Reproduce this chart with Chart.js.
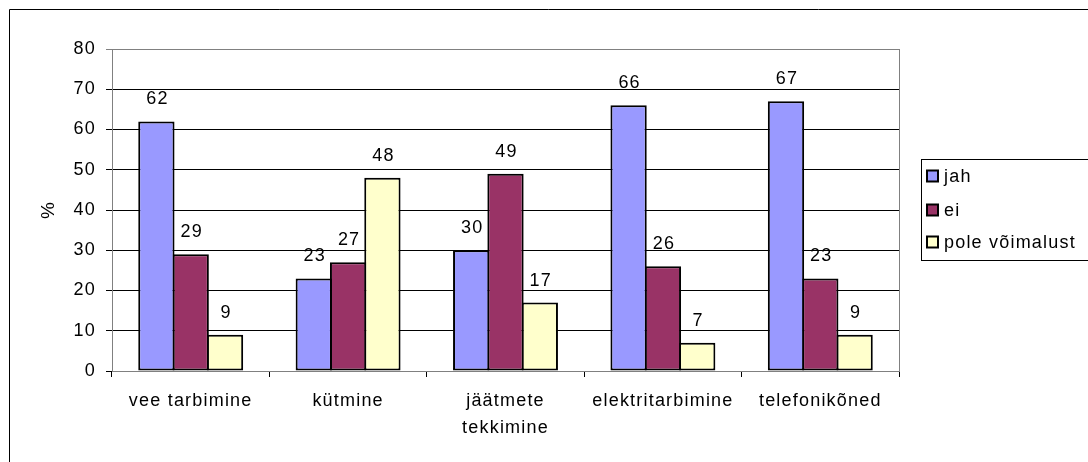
<!DOCTYPE html>
<html>
<head>
<meta charset="utf-8">
<script src="https://cdn.jsdelivr.net/npm/chart.js@4/dist/chart.umd.min.js"></script>
<style>
  html, body { margin: 0; padding: 0; background: #fff; }
  #wrap { width: 1088px; height: 462px; }
</style>
</head>
<body>
<div id="wrap"><canvas id="chart" width="1088" height="462"></canvas></div>
<script>
const categories = ['vee tarbimine', 'kütmine', ['jäätmete', 'tekkimine'], 'elektritarbimine', 'telefonikõned']
const jah = [62, 23, 30, 66, 67]
const ei = [29, 27, 49, 26, 23]
const poleVoimalust = [9, 48, 17, 7, 9]
const seriesNames = ['jah', 'ei', 'pole võimalust']
const seriesColors = ['#9999FF', '#993366', '#FFFFCC']
const yTicks = { min: 0, max: 80, step: 10 }

const FONT = { family: '"Liberation Sans", Arial, sans-serif', size: 18 }

// spaced-out lettering like the original renderer
function spacing(chart) {
  chart.ctx.letterSpacing = '1.2px'
}

const framePlugin = {
  id: 'frame',
  beforeLayout: spacing,
  beforeDraw(chart) {
    spacing(chart)
    const ctx = chart.ctx
    ctx.save()
    ctx.fillStyle = '#fff'
    ctx.fillRect(0, 0, chart.width, chart.height)
    ctx.strokeStyle = '#000'
    ctx.lineWidth = 1
    ctx.beginPath()
    ctx.moveTo(9.5, chart.height)
    ctx.lineTo(9.5, 9.5)
    ctx.lineTo(chart.width, 9.5)
    ctx.stroke()
    ctx.restore()
  },
  afterDatasetsDraw(chart) {
    const ctx = chart.ctx
    const area = chart.chartArea
    ctx.save()
    // right frame of the plot area
    ctx.strokeStyle = '#808080'
    ctx.lineWidth = 1
    ctx.beginPath()
    ctx.moveTo(Math.round(area.right) + 0.5, area.top)
    ctx.lineTo(Math.round(area.right) + 0.5, area.bottom)
    ctx.stroke()

    // value labels above the bars
    ctx.fillStyle = '#000'
    ctx.font = FONT.size + 'px ' + FONT.family
    ctx.textAlign = 'center'
    ctx.textBaseline = 'alphabetic'
    chart.data.datasets.forEach((ds, i) => {
      chart.getDatasetMeta(i).data.forEach((bar, j) => {
        ctx.fillText(String(ds.data[j]), bar.x + 1, bar.y - 17)
      })
    })

    // legend box
    ctx.strokeStyle = '#000'
    ctx.strokeRect(921.5, 159.5, 200, 101)
    const rows = [176, 210, 242]
    chart.data.datasets.forEach((ds, i) => {
      ctx.fillStyle = ds.backgroundColor
      ctx.fillRect(927, rows[i] - 5.5, 11, 11)
      ctx.lineWidth = 2
      ctx.strokeRect(927, rows[i] - 5.5, 11, 11)
      ctx.fillStyle = '#000'
      ctx.textAlign = 'left'
      ctx.textBaseline = 'middle'
      ctx.fillText(ds.label, 944, rows[i] + 1)
    })
    ctx.restore()
  }
}

const datasets = [jah, ei, poleVoimalust].map((values, i) => ({
  label: seriesNames[i],
  data: values,
  backgroundColor: seriesColors[i],
  borderColor: '#000',
  borderWidth: 2,
  borderSkipped: false,
  categoryPercentage: 0.654,
  barPercentage: 1.058
}))

new Chart(document.getElementById('chart'), {
  type: 'bar',
  data: { labels: categories, datasets: datasets },
  options: {
    responsive: false,
    animation: false,
    layout: { padding: { top: 49, right: 189, bottom: 0, left: 0 } },
    plugins: {
      legend: { display: false },
      tooltip: { enabled: false }
    },
    scales: {
      x: {
        afterFit(scale) { scale.height = 91 },
        grid: { drawOnChartArea: false, drawTicks: true, tickLength: 6, color: '#000' },
        border: { color: '#808080' },
        ticks: { color: '#000', padding: 11, maxRotation: 0, autoSkip: false, font: { ...FONT, lineHeight: 1.5 } }
      },
      y: {
        min: yTicks.min,
        max: yTicks.max,
        afterFit(scale) { scale.width = 112 },
        grid: {
          tickLength: 6,
          color: ctx => (ctx.tick && ctx.tick.value === yTicks.max ? '#808080' : '#000')
        },
        border: { color: '#808080' },
        ticks: { stepSize: yTicks.step, color: '#000', padding: 10, font: FONT },
        title: { display: true, text: '%', color: '#000', font: { ...FONT, size: 19 }, padding: { top: 37, bottom: 0 } }
      }
    }
  },
  plugins: [framePlugin]
})
</script>
</body>
</html>
